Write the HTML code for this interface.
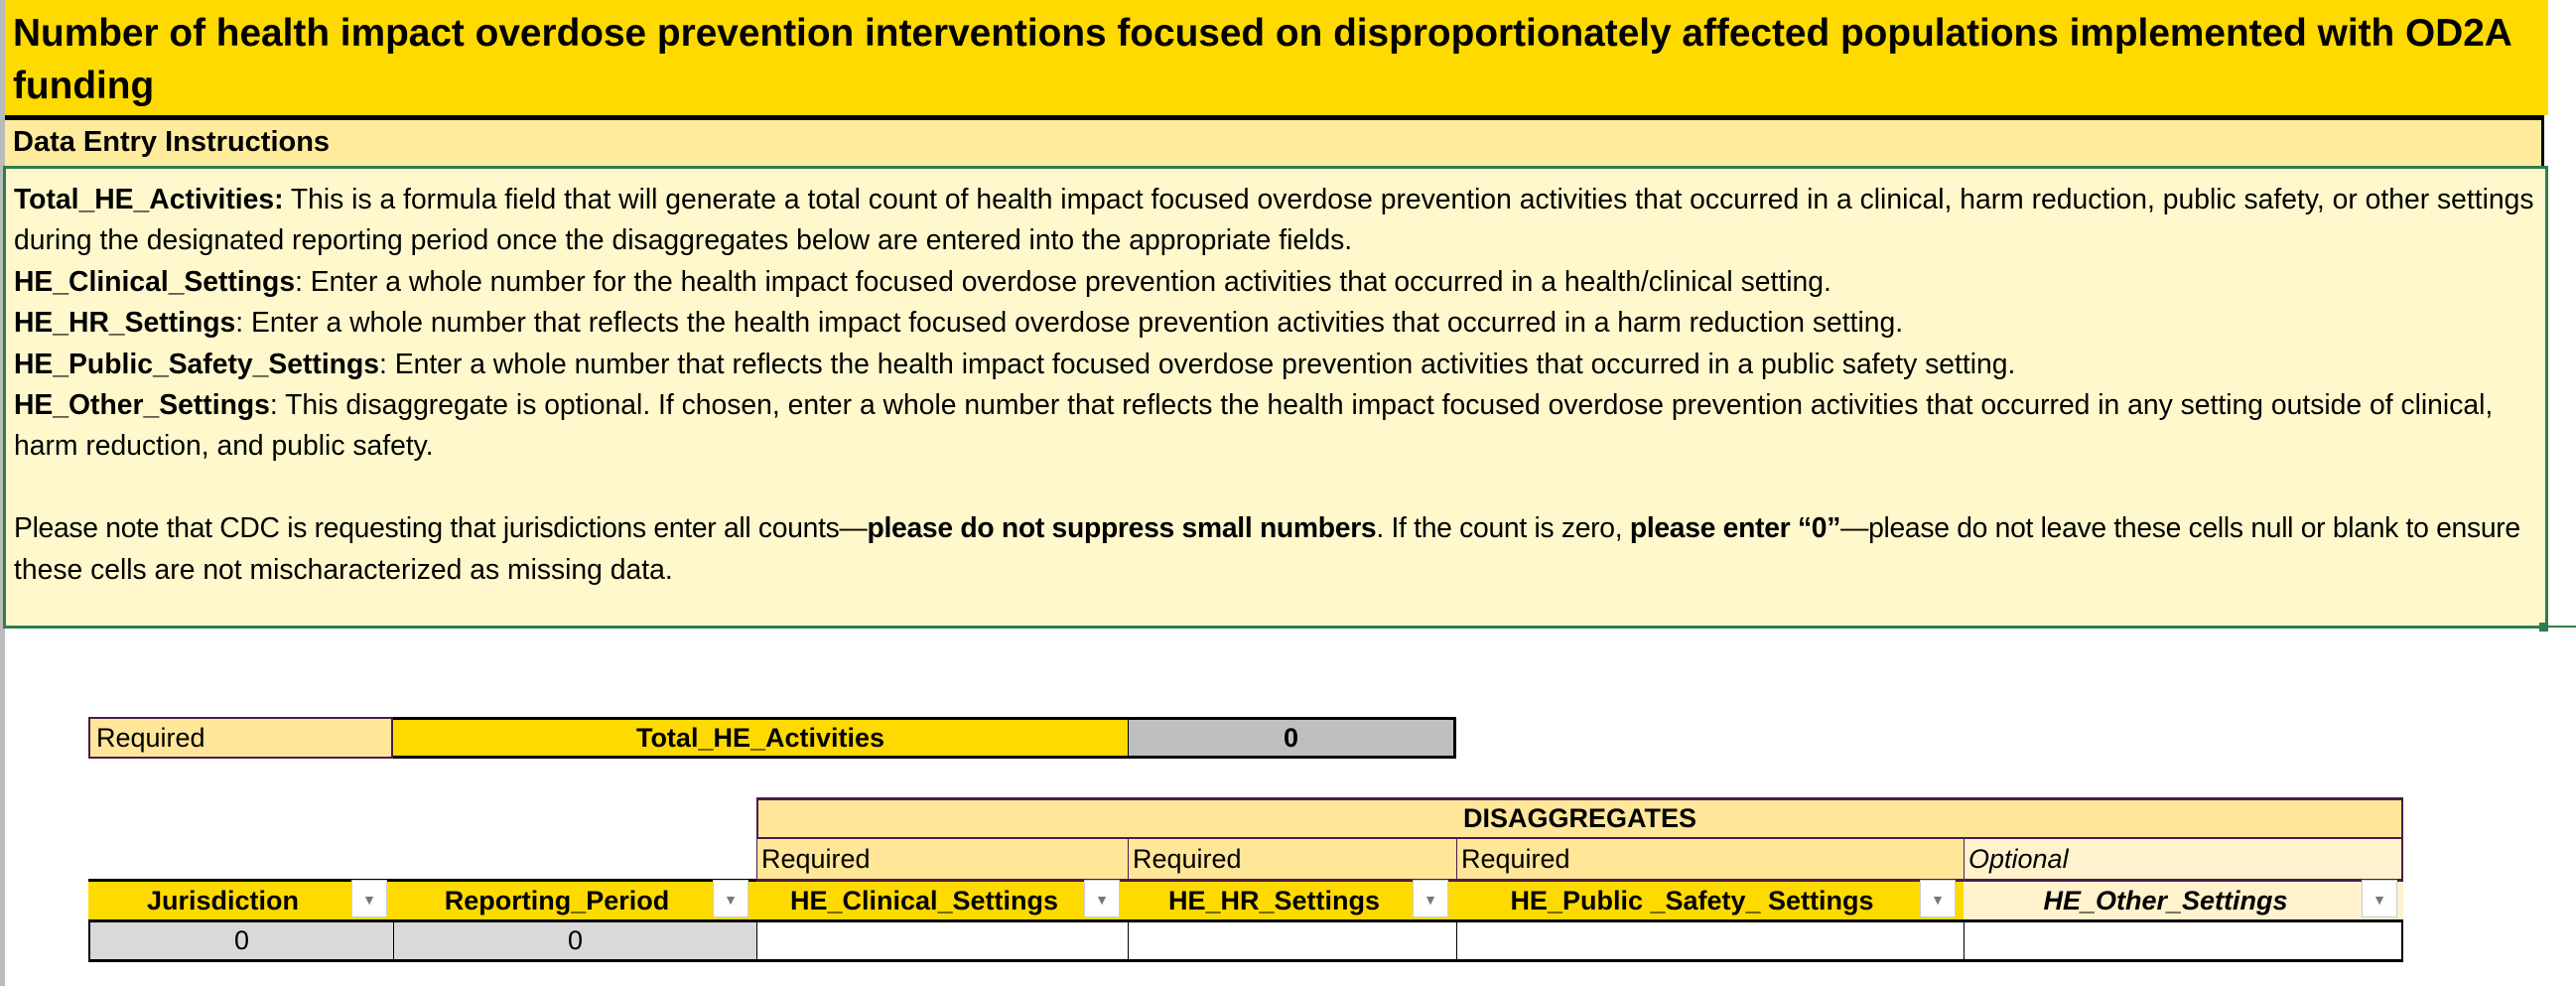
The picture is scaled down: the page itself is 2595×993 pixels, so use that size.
<!DOCTYPE html>
<html><head><meta charset="utf-8"><style>
*{margin:0;padding:0;box-sizing:border-box}
body{width:2595px;height:993px;background:#fff;position:relative;overflow:hidden;font-family:"Liberation Sans",sans-serif;color:#000}
.a{position:absolute}
.title{left:5px;top:0;width:2562px;height:116px;background:#FFDA00;font-weight:bold;font-size:38.8px;line-height:53px;padding:7px 0 0 8px;white-space:nowrap}
.dei{left:5px;top:116px;width:2558px;height:51px;background:#FFEB9C;border-top:5px solid #000;border-right:3px solid #000;font-weight:bold;font-size:29px;line-height:44px;padding-left:8px}
.box{left:3px;top:167px;width:2564px;height:466px;background:#FFF8CC;border:3px solid #2E7D4F;padding:10px 0 0 8px;font-size:28.3px;line-height:41.4px;white-space:nowrap;overflow:hidden}
.c{position:absolute;font-size:27px;display:flex;align-items:center}
.dd{position:absolute;width:36px;background:#fff;border:1px solid #ccc;font-size:14px;color:#777;text-align:center}
</style></head><body>
<div class="a" style="left:0;top:0;width:5px;height:993px;background:#bbb"></div>
<div class="a title">Number of health impact overdose prevention interventions focused on disproportionately affected populations implemented with OD2A<br>funding</div>
<div class="a dei">Data Entry Instructions</div>
<div class="a box"><b>Total_HE_Activities:</b> This is a formula field that will generate a total count of health impact focused overdose prevention activities that occurred in a clinical, harm reduction, public safety, or other settings<br>during the designated reporting period once the disaggregates below are entered into the appropriate fields.<br><b>HE_Clinical_Settings</b>: Enter a whole number for the health impact focused overdose prevention activities that occurred in a health/clinical setting.<br><b>HE_HR_Settings</b>: Enter a whole number that reflects the health impact focused overdose prevention activities that occurred in a harm reduction setting.<br><b>HE_Public_Safety_Settings</b>: Enter a whole number that reflects the health impact focused overdose prevention activities that occurred in a public safety setting.<br><b>HE_Other_Settings</b>: This disaggregate is optional. If chosen, enter a whole number that reflects the health impact focused overdose prevention activities that occurred in any setting outside of clinical,<br>harm reduction, and public safety.<br><br><span style="letter-spacing:-0.3px">Please note that CDC is requesting that jurisdictions enter all counts—<b>please do not suppress small numbers</b>. If the count is zero, <b>please enter “0”</b>—please do not leave these cells null or blank to ensure</span><br>these cells are not mischaracterized as missing data.</div>
<div class="a" style="left:2567px;top:630px;width:28px;height:2px;background:#2E7D4F"></div>
<div class="a" style="left:2558px;top:627px;width:9px;height:9px;background:#2E7D4F"></div>

<div class="c" style="left:89px;top:722px;width:307px;height:42px;background:#FFE699;border:2px solid #4B1C4C;padding-left:6px">Required</div>
<div class="c" style="left:396px;top:722px;width:740px;height:42px;background:#FFDA00;border-top:3px solid #000;border-bottom:3px solid #000;justify-content:center;font-weight:bold">Total_HE_Activities</div>
<div class="c" style="left:1136px;top:722px;width:331px;height:42px;background:#BFBFBF;border:3px solid #000;border-left:1px solid #000;justify-content:center;font-weight:bold">0</div>

<div class="c" style="left:762px;top:803px;width:1659px;height:42px;background:#FFE699;border:2px solid #4B1C4C;border-top:3px solid #4B1C4C;justify-content:center;font-weight:bold">DISAGGREGATES</div>
<div class="c" style="left:762px;top:845px;width:374px;height:40px;background:#FFE699;border-left:1px solid #4B1C4C;padding-left:4px">Required</div>
<div class="c" style="left:1136px;top:845px;width:331px;height:40px;background:#FFE699;border-left:1px solid #4B1C4C;padding-left:4px">Required</div>
<div class="c" style="left:1467px;top:845px;width:511px;height:40px;background:#FFE699;border-left:1px solid #4B1C4C;padding-left:4px">Required</div>
<div class="c" style="left:1978px;top:845px;width:443px;height:40px;background:#FFF2CC;border-left:1px solid #4B1C4C;border-right:2px solid #4B1C4C;padding-left:4px;font-style:italic">Optional</div>

<div class="c" style="left:89px;top:885px;width:307px;height:41px;background:#FFDA00;border-top:3px solid #000;justify-content:center;font-weight:bold;padding-right:36px">Jurisdiction</div>
<div class="c" style="left:396px;top:885px;width:366px;height:41px;background:#FFDA00;border-top:3px solid #000;justify-content:center;font-weight:bold;padding-right:36px">Reporting_Period</div>
<div class="c" style="left:762px;top:885px;width:374px;height:41px;background:#FFDA00;border-top:3px solid #4B1C4C;justify-content:center;font-weight:bold;padding-right:36px">HE_Clinical_Settings</div>
<div class="c" style="left:1136px;top:885px;width:331px;height:41px;background:#FFDA00;border-top:3px solid #4B1C4C;justify-content:center;font-weight:bold;padding-right:36px">HE_HR_Settings</div>
<div class="c" style="left:1467px;top:885px;width:511px;height:41px;background:#FFDA00;border-top:3px solid #4B1C4C;justify-content:center;font-weight:bold;padding-right:36px">HE_Public _Safety_ Settings</div>
<div class="c" style="left:1978px;top:885px;width:443px;height:41px;background:#FFF2CC;border-top:3px solid #4B1C4C;justify-content:center;font-weight:bold;font-style:italic;padding-right:36px">HE_Other_Settings</div>
<div class="dd" style="left:354px;top:886px;height:38px;line-height:38px">▼</div>
<div class="dd" style="left:718px;top:886px;height:38px;line-height:38px">▼</div>
<div class="dd" style="left:1092px;top:886px;height:38px;line-height:38px">▼</div>
<div class="dd" style="left:1423px;top:886px;height:38px;line-height:38px">▼</div>
<div class="dd" style="left:1934px;top:886px;height:38px;line-height:38px">▼</div>
<div class="dd" style="left:2379px;top:886px;height:38px;line-height:38px">▼</div>

<div class="c" style="left:89px;top:926px;width:307px;height:43px;background:#D9D9D9;border-top:3px solid #000;border-bottom:3px solid #000;border-left:2px solid #000;justify-content:center">0</div>
<div class="c" style="left:396px;top:926px;width:366px;height:43px;background:#D9D9D9;border-top:3px solid #000;border-bottom:3px solid #000;border-left:1px solid #000;justify-content:center">0</div>
<div class="c" style="left:762px;top:926px;width:374px;height:43px;background:#fff;border-top:3px solid #000;border-bottom:3px solid #000;border-left:1px solid #000"></div>
<div class="c" style="left:1136px;top:926px;width:331px;height:43px;background:#fff;border-top:3px solid #000;border-bottom:3px solid #000;border-left:1px solid #000"></div>
<div class="c" style="left:1467px;top:926px;width:511px;height:43px;background:#fff;border-top:3px solid #000;border-bottom:3px solid #000;border-left:1px solid #000"></div>
<div class="c" style="left:1978px;top:926px;width:443px;height:43px;background:#fff;border-top:3px solid #000;border-bottom:3px solid #000;border-left:1px solid #000;border-right:2px solid #000"></div>
</body></html>
